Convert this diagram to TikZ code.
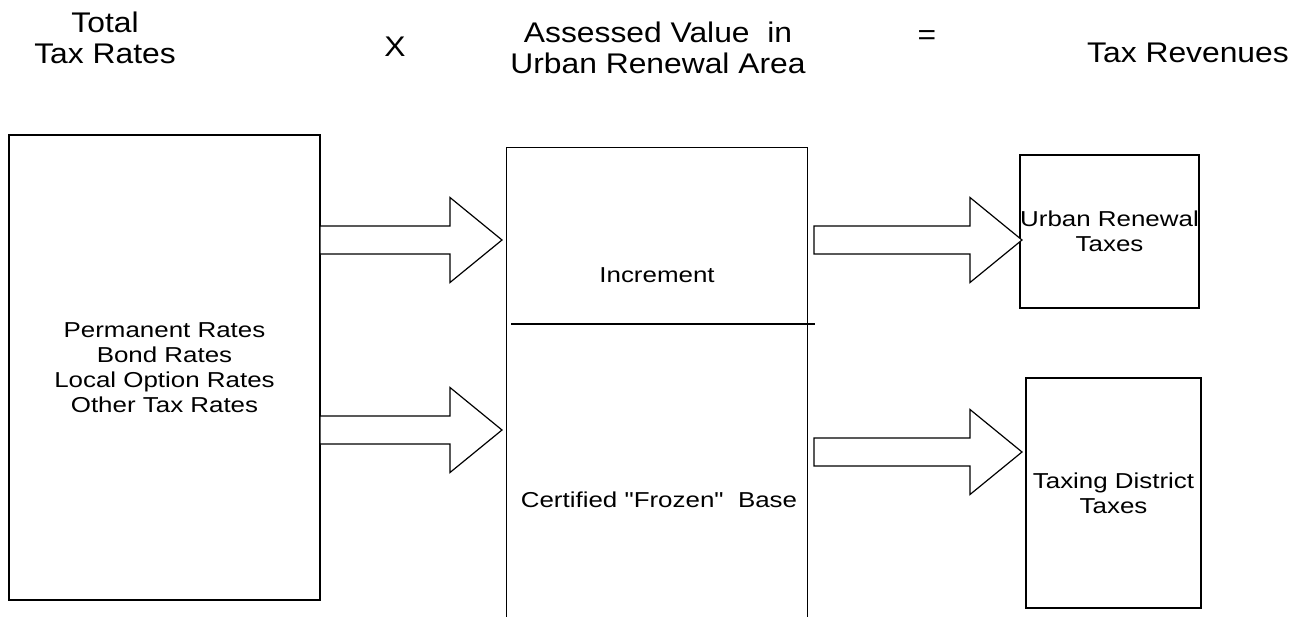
\documentclass[tikz,border=0pt]{standalone}
\usepackage{fontspec}
\setmainfont{Liberation Sans}
\newfontfamily\boxfont{Liberation Sans}[FakeStretch=1.2]
\newfontfamily\hdrfont{Liberation Sans}[FakeStretch=1.12]
\usetikzlibrary{calc}
\tikzset{
  boxline/.style={draw=black, line width=1.1pt},
  arrowline/.style={draw=black, line width=0.9pt, line join=miter, fill=white},
  hdr/.style={inner sep=0pt, align=center, font=\hdrfont\fontsize{21.3}{23}\selectfont},
  boxtxt/.style={inner sep=0pt, align=center, font=\boxfont\fontsize{16.2}{18.75}\selectfont},
  panel/.style={boxline, inner sep=0pt, align=center, font=\boxfont\fontsize{16.2}{18.75}\selectfont},
}
\newcommand\blockarrow[2]{%
  \draw[arrowline] ($(#1)+(0,-14)$) -- ($(#2)+(-52,-14)$) -- ($(#2)+(-52,-42.5)$) -- (#2)
    -- ($(#2)+(-52,42.5)$) -- ($(#2)+(-52,14)$) -- ($(#1)+(0,14)$) -- cycle;}
\begin{document}
\begin{tikzpicture}[x=0.75pt, y=-0.75pt]
\useasboundingbox (0,0) rectangle (1306,617);

% header
\node[hdr] (total) at (105,38) {Total\\Tax Rates};
\node[hdr, anchor=base] (times) at (395,57) {X};
\node[hdr] (assessed) at (658,48) {Assessed Value\ \ in\\Urban Renewal Area};
\node[hdr] (equals) at (927,38) {=};
\node[hdr, anchor=base] (revenues) at (1188,63) {Tax Revenues};

% left box
\node[panel, minimum width=311*0.75pt, minimum height=465*0.75pt] (L) at (164.5,367.5)
  {Permanent Rates\\Bond Rates\\Local Option Rates\\Other Tax Rates};

% middle box (open at the bottom)
\node[inner sep=0pt, minimum width=300*0.75pt, minimum height=472*0.75pt] (M) at (657,384) {};
\draw[boxline] (M.south west) -- (M.north west) -- (M.north east) -- (M.south east);
\coordinate (d1) at (511,324);
\coordinate (d2) at (815,324);
\draw[boxline] (d1) -- (d2);
\node[boxtxt, anchor=base] (incr) at (657,282) {Increment};
\node[boxtxt, anchor=base] (base) at (659,507) {Certified "Frozen"\ \ Base};

% right boxes
\node[panel, minimum width=175*0.75pt, minimum height=153*0.75pt] (R1) at (1109.5,231.5)
  {Urban Renewal\\Taxes};
\node[panel, minimum width=175*0.75pt, minimum height=230*0.75pt] (R2) at (1113.5,493)
  {Taxing District\\Taxes};

% block arrows
\coordinate (s1) at (320,240);
\coordinate (t1) at (502,240);
\coordinate (s2) at (320,430);
\coordinate (t2) at (502,430);
\coordinate (s3) at (814,240);
\coordinate (t3) at (1022,240);
\coordinate (s4) at (814,452);
\coordinate (t4) at (1022,452);
\blockarrow{s1}{t1}
\blockarrow{s2}{t2}
\blockarrow{s3}{t3}
\blockarrow{s4}{t4}
\end{tikzpicture}
\end{document}
